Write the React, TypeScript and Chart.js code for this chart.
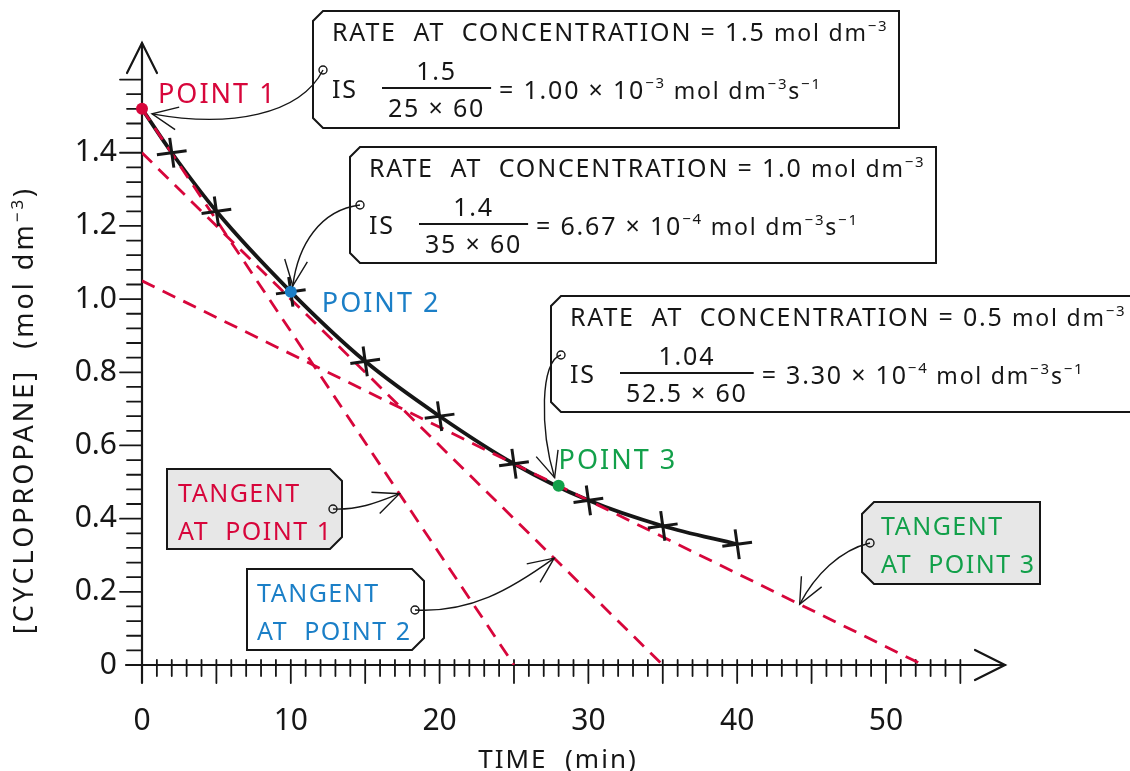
import React, { useEffect, useRef } from 'react';
import { Chart, registerables } from 'chart.js';

Chart.register(...registerables);

// ---------- data ----------
const curveTimes = [0, 2, 5, 10, 15, 20, 25, 30, 35, 40];
const curveConc = [1.52, 1.4, 1.24, 1.02, 0.83, 0.68, 0.55, 0.45, 0.38, 0.33];
const measuredTimes = [2, 5, 10, 15, 20, 25, 30, 35, 40];
const measuredConc = [1.4, 1.24, 1.02, 0.83, 0.68, 0.55, 0.45, 0.38, 0.33];
const pointTimes = [0, 10, 28];
const pointConc = [1.52, 1.02, 0.49];
const pointNames = ['POINT 1', 'POINT 2', 'POINT 3'];
const tangent1X = [0, 25];
const tangent1Y = [1.52, 0];
const tangent2X = [0, 35];
const tangent2Y = [1.4, 0];
const tangent3X = [0, 52.5];
const tangent3Y = [1.05, 0];
const xTickValues = [0, 10, 20, 30, 40, 50];
const xTickLabels = ['0', '10', '20', '30', '40', '50'];
const yTickValues = [0, 0.2, 0.4, 0.6, 0.8, 1.0, 1.2, 1.4];
const yTickLabels = ['0', '0.2', '0.4', '0.6', '0.8', '1.0', '1.2', '1.4'];
const rateConcs = ['1.5', '1.0', '0.5'];
const rateNumerators = ['1.5', '1.4', '1.04'];
const rateDenominators = ['25 × 60', '35 × 60', '52.5 × 60'];
const rateMantissas = ['1.00', '6.67', '3.30'];
const rateExponents = ['−3', '−4', '−4'];
const tangentNames = ['AT  POINT 1', 'AT  POINT 2', 'AT  POINT 3'];

const RED = '#d7063b';
const BLUE = '#1b7fc7';
const GREEN = '#12a04a';
const INK = '#161616';
const GRAY_FILL = '#e7e7e7';
const FONT = "'Noto Sans', 'DejaVu Sans', sans-serif";

const pts = (xs: number[], ys: number[]) => xs.map((x, i) => ({ x, y: ys[i] }));

type Run = { t: string; s: number; dy?: number };

function runsWidth(ctx: CanvasRenderingContext2D, runs: Run[]) {
  let w = 0;
  for (const r of runs) {
    ctx.font = `${r.s}px ${FONT}`;
    w += ctx.measureText(r.t).width;
  }
  return w;
}

function drawRuns(ctx: CanvasRenderingContext2D, x: number, y: number, runs: Run[], color: string) {
  ctx.fillStyle = color;
  ctx.textAlign = 'left';
  ctx.textBaseline = 'alphabetic';
  let cx = x;
  for (const r of runs) {
    ctx.font = `${r.s}px ${FONT}`;
    ctx.fillText(r.t, cx, y - (r.dy || 0));
    cx += ctx.measureText(r.t).width;
  }
  return cx;
}

function tagPath(ctx: CanvasRenderingContext2D, x: number, y: number, w: number, h: number, c: number, side: 'left' | 'right') {
  ctx.beginPath();
  if (side === 'left') {
    ctx.moveTo(x + c, y);
    ctx.lineTo(x + w, y);
    ctx.lineTo(x + w, y + h);
    ctx.lineTo(x + c, y + h);
    ctx.lineTo(x, y + h - c);
    ctx.lineTo(x, y + c);
  } else {
    ctx.moveTo(x, y);
    ctx.lineTo(x + w - c, y);
    ctx.lineTo(x + w, y + c);
    ctx.lineTo(x + w, y + h - c);
    ctx.lineTo(x + w - c, y + h);
    ctx.lineTo(x, y + h);
  }
  ctx.closePath();
}

function drawConnector(
  ctx: CanvasRenderingContext2D,
  sx: number, sy: number,
  c1x: number, c1y: number,
  c2x: number, c2y: number,
  tx: number, ty: number
) {
  ctx.save();
  ctx.strokeStyle = INK;
  ctx.lineWidth = 1.4;
  ctx.beginPath();
  ctx.arc(sx, sy, 4, 0, Math.PI * 2);
  ctx.stroke();
  ctx.beginPath();
  ctx.moveTo(sx, sy);
  ctx.bezierCurveTo(c1x, c1y, c2x, c2y, tx, ty);
  ctx.stroke();
  const ang = Math.atan2(ty - c2y, tx - c2x);
  const len = 28;
  const spread = 0.42;
  ctx.beginPath();
  ctx.moveTo(tx - len * Math.cos(ang - spread), ty - len * Math.sin(ang - spread));
  ctx.lineTo(tx, ty);
  ctx.lineTo(tx - len * Math.cos(ang + spread), ty - len * Math.sin(ang + spread));
  ctx.stroke();
  ctx.restore();
}

function drawRateBox(ctx: CanvasRenderingContext2D, i: number, bx: number, by: number, w: number, h: number) {
  ctx.save();
  tagPath(ctx, bx, by, w, h, 10, 'left');
  ctx.fillStyle = '#ffffff';
  ctx.fill();
  ctx.strokeStyle = INK;
  ctx.lineWidth = 2;
  ctx.stroke();
  (ctx as any).letterSpacing = '1.8px';
  const tx = bx + 19;
  drawRuns(ctx, tx, by + 30, [
    { t: `RATE  AT  CONCENTRATION = ${rateConcs[i]} `, s: 25 },
    { t: 'mol dm', s: 23 },
    { t: '−3', s: 15, dy: 10 },
  ], INK);
  drawRuns(ctx, tx, by + 87, [{ t: 'IS', s: 25 }], INK);
  const fx = tx + 50;
  ctx.font = `25px ${FONT}`;
  const dw = ctx.measureText(rateDenominators[i]).width;
  const nw = ctx.measureText(rateNumerators[i]).width;
  const lw = dw + 12;
  ctx.fillStyle = INK;
  ctx.fillText(rateNumerators[i], fx + (lw - nw) / 2, by + 69);
  ctx.fillText(rateDenominators[i], fx + (lw - dw) / 2, by + 106);
  ctx.beginPath();
  ctx.moveTo(fx, by + 77);
  ctx.lineTo(fx + lw, by + 77);
  ctx.lineWidth = 1.8;
  ctx.stroke();
  drawRuns(ctx, fx + lw + 8, by + 88, [
    { t: `= ${rateMantissas[i]} × 10`, s: 25 },
    { t: rateExponents[i], s: 15, dy: 11 },
    { t: ' mol dm', s: 23 },
    { t: '−3', s: 15, dy: 10 },
    { t: 's', s: 23 },
    { t: '−1', s: 15, dy: 10 },
  ], INK);
  ctx.restore();
}

function drawTangentTag(ctx: CanvasRenderingContext2D, i: number, bx: number, by: number, w: number, h: number, side: 'left' | 'right', fill: string, color: string, textX: number) {
  ctx.save();
  tagPath(ctx, bx, by, w, h, 12, side);
  ctx.fillStyle = fill;
  ctx.fill();
  ctx.strokeStyle = INK;
  ctx.lineWidth = 2;
  ctx.stroke();
  (ctx as any).letterSpacing = '1.5px';
  drawRuns(ctx, textX, by + 33, [{ t: 'TANGENT', s: 25 }], color);
  drawRuns(ctx, textX, by + 71, [{ t: tangentNames[i], s: 25 }], color);
  ctx.restore();
}

const overlayPlugin = {
  id: 'overlay',
  beforeDatasetsDraw(chart: any) {
    const ctx: CanvasRenderingContext2D = chart.ctx;
    const xs = chart.scales.x;
    const ys = chart.scales.y;
    const x0 = xs.getPixelForValue(0);
    const y0 = ys.getPixelForValue(0);
    const top = chart.chartArea.top;
    const right = chart.chartArea.right;
    ctx.save();
    ctx.strokeStyle = INK;
    ctx.lineWidth = 2.2;
    ctx.lineCap = 'round';
    ctx.beginPath();
    ctx.moveTo(x0 - 16, y0);
    ctx.lineTo(right, y0);
    ctx.moveTo(x0, y0 + 18);
    ctx.lineTo(x0, top);
    ctx.stroke();
    ctx.beginPath();
    ctx.moveTo(right - 30, y0 - 15);
    ctx.lineTo(right, y0);
    ctx.lineTo(right - 30, y0 + 15);
    ctx.moveTo(x0 - 15, top + 30);
    ctx.lineTo(x0, top);
    ctx.lineTo(x0 + 15, top + 30);
    ctx.stroke();
    ctx.lineWidth = 1.8;
    ctx.beginPath();
    for (let m = 1; m <= 55; m++) {
      const px = xs.getPixelForValue(m);
      const major = m % 5 === 0;
      ctx.moveTo(px, y0 - 5);
      ctx.lineTo(px, y0 + (major ? 18 : 11));
    }
    for (let k = 1; k <= 40; k++) {
      const py = ys.getPixelForValue(k * 0.04);
      const major = k % 5 === 0;
      ctx.moveTo(x0, py);
      ctx.lineTo(x0 - (major ? 22 : 15), py);
    }
    ctx.stroke();
    ctx.restore();
  },
  afterDatasetsDraw(chart: any) {
    const ctx: CanvasRenderingContext2D = chart.ctx;
    const xs = chart.scales.x;
    const ys = chart.scales.y;
    const P = (x: number, y: number) => [xs.getPixelForValue(x), ys.getPixelForValue(y)];

    ctx.save();
    (ctx as any).letterSpacing = '3px';
    const yRuns: Run[] = [
      { t: '[CYCLOPROPANE]  (mol dm', s: 27 },
      { t: '−3', s: 17, dy: 10 },
      { t: ')', s: 27 },
    ];
    ctx.save();
    ctx.translate(33, 410);
    ctx.rotate(-Math.PI / 2);
    const yw = runsWidth(ctx, yRuns);
    drawRuns(ctx, -yw / 2, 0, yRuns, INK);
    ctx.restore();
    (ctx as any).letterSpacing = '2px';
    const xRuns: Run[] = [{ t: 'TIME  (min)', s: 26 }];
    const xw = runsWidth(ctx, xRuns);
    drawRuns(ctx, 558 - xw / 2, 768, xRuns, INK);

    const colors = [RED, BLUE, GREEN];
    const offs = [[16, -6], [31, 20], [0, -17]];
    pointNames.forEach((name, i) => {
      const [px, py] = P(pointTimes[i], pointConc[i]);
      drawRuns(ctx, px + offs[i][0], py + offs[i][1], [{ t: name, s: 27 }], colors[i]);
    });
    ctx.restore();

    drawRateBox(ctx, 0, 313, 11, 586, 117);
    drawRateBox(ctx, 1, 350, 147, 586, 116);
    drawRateBox(ctx, 2, 551, 296, 600, 116);

    const [p1x, p1y] = P(pointTimes[0], pointConc[0]);
    const [p2x, p2y] = P(pointTimes[1], pointConc[1]);
    const [p3x, p3y] = P(pointTimes[2], pointConc[2]);
    drawConnector(ctx, 323, 70, 300, 115, 230, 128, p1x + 10, p1y + 5);
    drawConnector(ctx, 360, 205, 320, 210, 298, 245, p2x + 2, p2y - 6);
    drawConnector(ctx, 561, 355, 540, 360, 540, 430, p3x - 4, p3y - 8);

    drawTangentTag(ctx, 0, 167, 469, 175, 80, 'right', GRAY_FILL, RED, 178);
    drawTangentTag(ctx, 1, 247, 569, 177, 81, 'right', '#ffffff', BLUE, 257);
    drawTangentTag(ctx, 2, 862, 502, 178, 82, 'left', GRAY_FILL, GREEN, 881);

    const t1 = 17.3;
    const [a1x, a1y] = P(t1, tangent1Y[0] * (1 - t1 / tangent1X[1]));
    drawConnector(ctx, 333, 509, 360, 510, 378, 502, a1x, a1y);
    const t2 = 27.7;
    const [a2x, a2y] = P(t2, tangent2Y[0] * (1 - t2 / tangent2X[1]));
    drawConnector(ctx, 415, 610, 470, 613, 510, 590, a2x, a2y);
    const t3 = 44.2;
    const [a3x, a3y] = P(t3, tangent3Y[0] * (1 - t3 / tangent3X[1]));
    drawConnector(ctx, 870, 543, 840, 550, 815, 575, a3x, a3y);
  },
};

export default function App() {
  const ref = useRef<HTMLCanvasElement | null>(null);
  useEffect(() => {
    if (!ref.current) return;
    const dashed = { borderColor: RED, borderWidth: 2.8, borderDash: [14, 9], pointRadius: 0, fill: false };
    const chart = new Chart(ref.current, {
      type: 'line',
      data: {
        datasets: [
          {
            label: 'Key points',
            data: pts(pointTimes, pointConc),
            showLine: false,
            pointRadius: 6,
            pointBackgroundColor: [RED, BLUE, GREEN],
            pointBorderColor: [RED, BLUE, GREEN],
            pointBorderWidth: 0,
            clip: false,
          } as any,
          {
            label: 'Measured',
            data: pts(measuredTimes, measuredConc),
            showLine: false,
            pointStyle: 'cross',
            pointRadius: 15,
            pointRotation: -8,
            pointBorderWidth: 3,
            pointBorderColor: INK,
            clip: false,
          } as any,
          { label: 'Tangent 1', data: pts(tangent1X, tangent1Y), ...dashed },
          { label: 'Tangent 2', data: pts(tangent2X, tangent2Y), ...dashed },
          { label: 'Tangent 3', data: pts(tangent3X, tangent3Y), ...dashed },
          {
            label: 'Curve',
            data: pts(curveTimes, curveConc),
            borderColor: INK,
            borderWidth: 3.8,
            cubicInterpolationMode: 'monotone',
            pointRadius: 0,
            fill: false,
          },
        ],
      },
      options: {
        animation: false,
        responsive: false,
        devicePixelRatio: 1,
        layout: { padding: { top: 34, right: 125, bottom: 0, left: 0 } },
        plugins: {
          legend: { display: false },
          tooltip: { enabled: false },
        },
        scales: {
          x: {
            type: 'linear',
            min: 0,
            max: 58,
            grid: { display: false, drawTicks: false },
            border: { display: false },
            ticks: {
              padding: 38,
              color: INK,
              font: { family: FONT, size: 30 },
              autoSkip: false,
              maxRotation: 0,
              callback: (v: any) => {
                const i = xTickValues.indexOf(Number(v));
                return i >= 0 ? xTickLabels[i] : '';
              },
            },
            afterBuildTicks: (scale: any) => {
              scale.ticks = xTickValues.map((v) => ({ value: v }));
            },
            afterFit: (scale: any) => {
              scale.height = 106;
            },
          },
          y: {
            type: 'linear',
            min: 0,
            max: 1.7,
            grid: { display: false, drawTicks: false },
            border: { display: false },
            ticks: {
              padding: 25,
              color: INK,
              font: { family: FONT, size: 30 },
              autoSkip: false,
              callback: (v: any) => {
                const i = yTickValues.findIndex((t) => Math.abs(t - Number(v)) < 1e-6);
                return i >= 0 ? yTickLabels[i] : '';
              },
            },
            afterBuildTicks: (scale: any) => {
              scale.ticks = yTickValues.map((v) => ({ value: v }));
            },
            afterFit: (scale: any) => {
              scale.width = 142;
            },
          },
        },
      } as any,
      plugins: [overlayPlugin],
    });
    return () => chart.destroy();
  }, []);

  return (
    <div style={{ position: 'fixed', left: 0, top: 0, width: 1130, height: 771, background: '#ffffff' }}>
      <canvas ref={ref} width={1130} height={771} style={{ display: 'block' }} />
    </div>
  );
}
